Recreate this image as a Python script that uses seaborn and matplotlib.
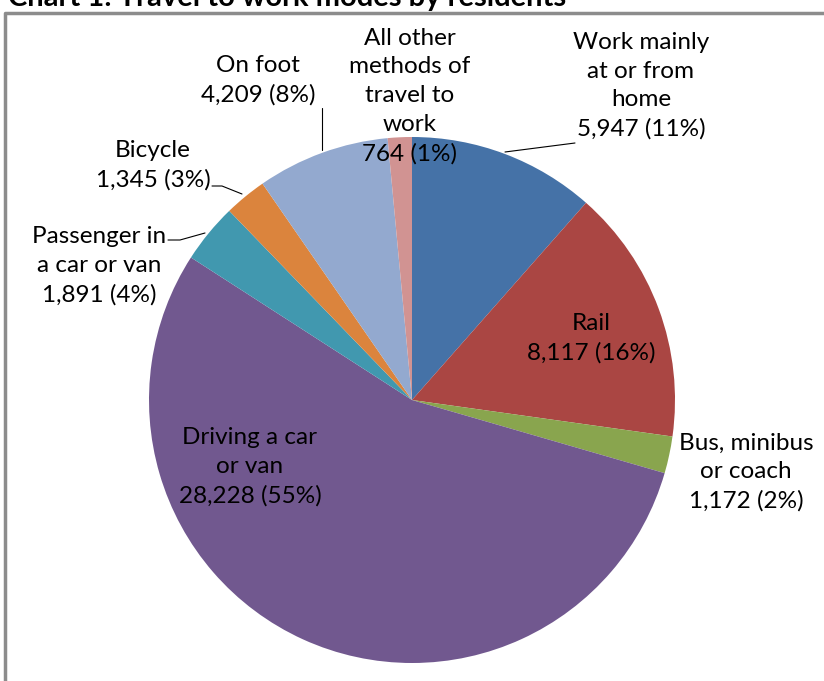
import matplotlib
matplotlib.use("Agg")
import matplotlib.pyplot as plt
import seaborn as sns

# data
modes = ["Work mainly\nat or from\nhome", "Rail", "Bus, minibus\nor coach",
         "Driving a car\nor van", "Passenger in\na car or van", "Bicycle",
         "On foot", "All other\nmethods of\ntravel to\nwork"]
counts = [5947, 8117, 1172, 28228, 1891, 1345, 4209, 764]
percents = [11, 16, 2, 55, 4, 3, 8, 1]
colours = ["#4572A7", "#AA4643", "#89A54E", "#71588F",
           "#4198AF", "#DB843D", "#93A9CF", "#D19392"]

sns.set_style("white")
plt.rcParams['font.family'] = ['Lato', 'DejaVu Sans']

W, H = 824, 681
fig = plt.figure(figsize=(W / 100, H / 100), dpi=100)
ax = fig.add_axes([0, 0, 1, 1])

# pie (pixel coordinates, y measured from bottom)
cx, cy, r = 412, H - 400, 263
pal = sns.color_palette(colours)
ax.pie(counts, colors=pal, startangle=90, counterclock=False,
       center=(cx, cy), radius=r, frame=True,
       wedgeprops=dict(linewidth=0))
ax.set_xlim(0, W)
ax.set_ylim(0, H)
ax.set_aspect('equal')
ax.axis('off')

labels = [f"{m}\n{c:,} ({p}%)" for m, c, p in zip(modes, counts, percents)]

# label positions (pixels from top-left)
pos = [(641, 86), (591, 338), (746, 472), (250, 467),
       (99, 266), (153, 165), (258, 80), (410, 96)]
for lab, (x, y) in zip(labels, pos):
    ax.text(x, H - y, lab, ha='center', va='center', fontsize=17.5,
            linespacing=1.45, color='black')

# leader lines
leaders = [[(505, 152), (575, 143)],
           [(168, 240), (180, 240), (205, 233)],
           [(212, 186), (222, 186), (242, 194)],
           [(322, 108), (322, 150)]]
for pts in leaders:
    xs = [p[0] for p in pts]
    ys = [H - p[1] for p in pts]
    ax.plot(xs, ys, color='black', lw=0.8)

# frame and clipped title
ax.plot([5, 5, W], [0, H - 13, H - 13], color='#8c8c8c', lw=2.5)
ax.text(8, H - 6, "Chart 1: Travel to work modes by residents", ha='left',
        va='baseline', fontsize=21, fontweight='bold', color='black')

fig.savefig("out.png", dpi=100)
